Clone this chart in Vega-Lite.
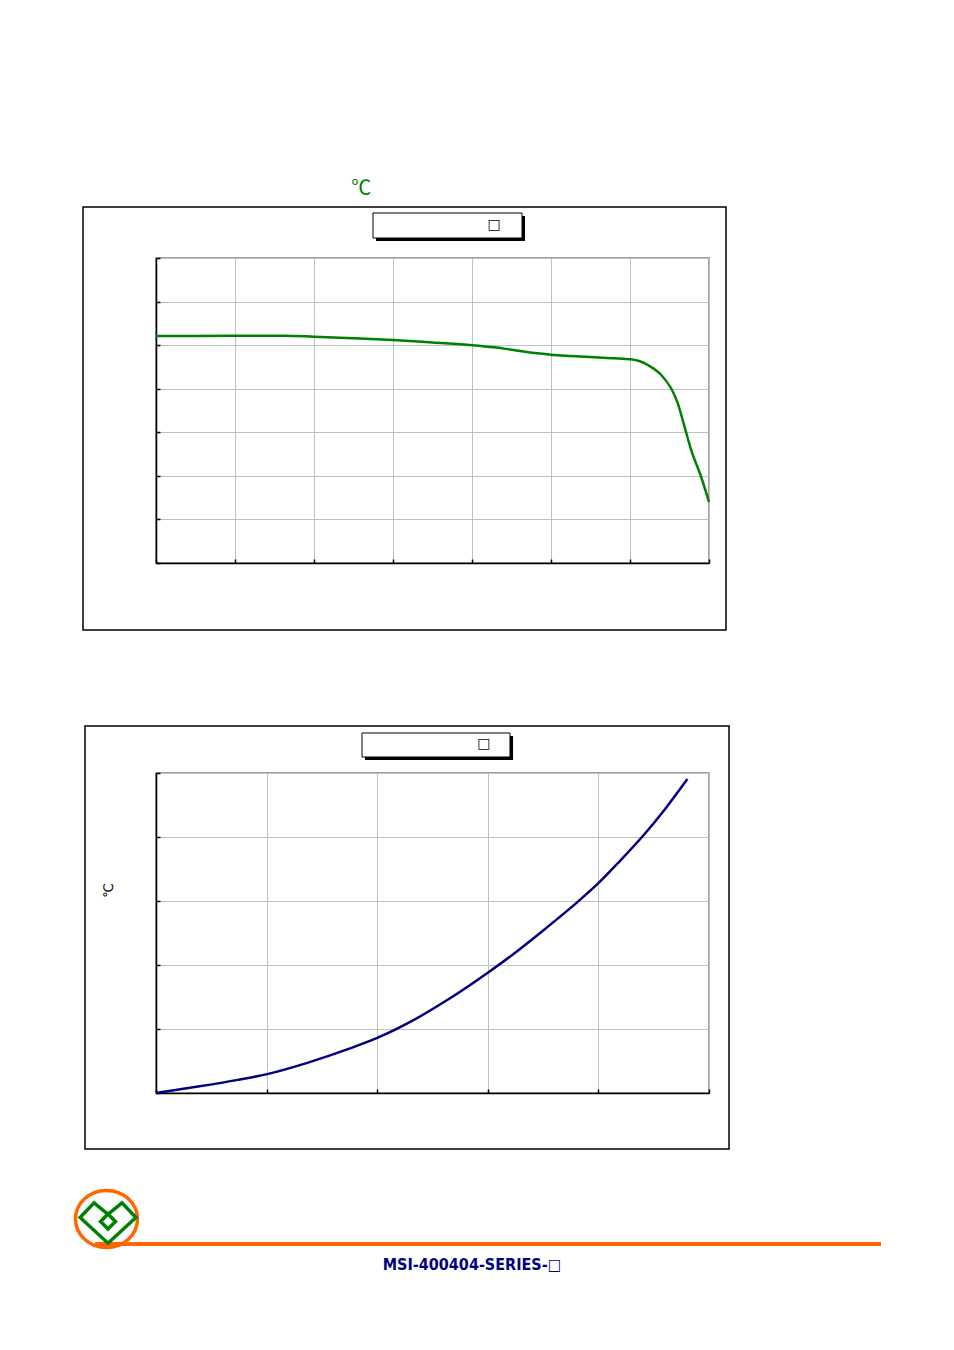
{
  "$schema": "https://vega.github.io/schema/vega-lite/v6.json",
  "background": "white",
  "padding": {"left": 68, "top": 178, "right": 5, "bottom": 5},
  "config": {
    "font": "Liberation Sans",
    "axis": {"labels": false, "grid": true, "gridColor": "#c0c0c0", "gridWidth": 1, "domainColor": "black", "domainWidth": 1.5, "tickColor": "black", "tickWidth": 1.5, "tickSize": -4},
    "view": {"stroke": "#808080", "strokeWidth": 1.5}
  },
  "spacing": 32,
  "vconcat": [
    {
      "spacing": 92,
      "vconcat": [
        {
          "width": 553,
          "height": 305,
          "title": {"text": "℃", "color": "#008000", "font": "Noto Sans CJK SC", "fontSize": 20, "fontWeight": "normal", "anchor": "start", "dx": 269, "offset": -13, "baseline": "bottom"},
          "layer": [
            {
              "data": {"values": [
                {"x": 0, "y": 52.1}, {"x": 20, "y": 52.15}, {"x": 32.5, "y": 52.17}, {"x": 40, "y": 51.95},
                {"x": 50, "y": 51.6}, {"x": 60, "y": 51.18}, {"x": 70, "y": 50.6}, {"x": 80, "y": 50.0},
                {"x": 85.6, "y": 49.5}, {"x": 90, "y": 48.95}, {"x": 96.6, "y": 48.13}, {"x": 100, "y": 47.8},
                {"x": 105, "y": 47.5}, {"x": 111, "y": 47.2}, {"x": 116, "y": 47.0}, {"x": 120.2, "y": 46.75},
                {"x": 122.5, "y": 46.3}, {"x": 124.5, "y": 45.44}, {"x": 127.9, "y": 43.15}, {"x": 130.4, "y": 40.1},
                {"x": 132.1, "y": 36.65}, {"x": 133.8, "y": 31.3}, {"x": 135.5, "y": 25.9}, {"x": 138, "y": 19.8},
                {"x": 140, "y": 14.0}
              ]},
              "mark": {"type": "line", "color": "#008000", "strokeWidth": 2.5, "interpolate": "monotone"},
              "encoding": {
                "x": {"field": "x", "type": "quantitative", "title": null, "scale": {"domain": [0, 140], "nice": false, "zero": false}, "axis": {"values": [0, 20, 40, 60, 80, 100, 120, 140]}},
                "y": {"field": "y", "type": "quantitative", "title": null, "scale": {"domain": [0, 70], "nice": false, "zero": false}, "axis": {"values": [0, 10, 20, 30, 40, 50, 60, 70]}}
              }
            },
            {
              "data": {"values": [{}]},
              "mark": {"type": "rect", "fill": "transparent", "stroke": "black", "strokeWidth": 1.5},
              "encoding": {
                "x": {"datum": -18.48, "type": "quantitative", "title": null, "scale": {"domain": [0, 140], "nice": false, "zero": false}, "axis": {"values": [0, 20, 40, 60, 80, 100, 120, 140]}},
                "x2": {"datum": 144.3},
                "y": {"datum": 81.71, "type": "quantitative", "title": null, "scale": {"domain": [0, 70], "nice": false, "zero": false}, "axis": {"values": [0, 10, 20, 30, 40, 50, 60, 70]}},
                "y2": {"datum": -15.38}
              }
            },
            {
              "data": {"values": [{}]},
              "mark": {"type": "rect", "fill": "black"},
              "encoding": {
                "x": {"datum": 55.7, "type": "quantitative", "title": null, "scale": {"domain": [0, 140], "nice": false, "zero": false}, "axis": {"values": [0, 20, 40, 60, 80, 100, 120, 140]}},
                "x2": {"datum": 93.42},
                "y": {"datum": 79.64, "type": "quantitative", "title": null, "scale": {"domain": [0, 70], "nice": false, "zero": false}, "axis": {"values": [0, 10, 20, 30, 40, 50, 60, 70]}},
                "y2": {"datum": 73.9}
              }
            },
            {
              "data": {"values": [{}]},
              "mark": {"type": "rect", "fill": "white", "stroke": "black", "strokeWidth": 1},
              "encoding": {
                "x": {"datum": 54.94, "type": "quantitative", "title": null, "scale": {"domain": [0, 140], "nice": false, "zero": false}, "axis": {"values": [0, 20, 40, 60, 80, 100, 120, 140]}},
                "x2": {"datum": 92.66},
                "y": {"datum": 80.33, "type": "quantitative", "title": null, "scale": {"domain": [0, 70], "nice": false, "zero": false}, "axis": {"values": [0, 10, 20, 30, 40, 50, 60, 70]}},
                "y2": {"datum": 74.59}
              }
            },
            {
              "data": {"values": [{"label": "□"}]},
              "mark": {"type": "text", "font": "DejaVu Sans", "fontSize": 14, "fill": "black", "align": "center", "baseline": "middle"},
              "encoding": {
                "x": {"datum": 85.57, "type": "quantitative", "title": null, "scale": {"domain": [0, 140], "nice": false, "zero": false}, "axis": {"values": [0, 20, 40, 60, 80, 100, 120, 140]}},
                "y": {"datum": 77.57, "type": "quantitative", "title": null, "scale": {"domain": [0, 70], "nice": false, "zero": false}, "axis": {"values": [0, 10, 20, 30, 40, 50, 60, 70]}},
                "text": {"field": "label"}
              }
            }
          ]
        },
        {
          "width": 553,
          "height": 320,
          "layer": [
            {
              "data": {"values": [
                {"x": 0, "y": 0}, {"x": 0.76, "y": 1.0}, {"x": 1.48, "y": 2.05}, {"x": 2.01, "y": 2.95},
                {"x": 2.75, "y": 4.75}, {"x": 3.47, "y": 6.85}, {"x": 4.0, "y": 8.6}, {"x": 4.68, "y": 11.5},
                {"x": 5.28, "y": 14.6}, {"x": 6.0, "y": 18.8}, {"x": 6.43, "y": 21.5}, {"x": 7.03, "y": 25.6},
                {"x": 7.63, "y": 29.9}, {"x": 7.99, "y": 32.7}, {"x": 8.35, "y": 35.9}, {"x": 8.84, "y": 40.5},
                {"x": 9.2, "y": 44.3}, {"x": 9.61, "y": 49.06}
              ]},
              "mark": {"type": "line", "color": "#000080", "strokeWidth": 2.5, "interpolate": "monotone"},
              "encoding": {
                "x": {"field": "x", "type": "quantitative", "title": null, "scale": {"domain": [0, 10], "nice": false, "zero": false}, "axis": {"values": [0, 2, 4, 6, 8, 10]}},
                "y": {"field": "y", "type": "quantitative", "title": "℃", "scale": {"domain": [0, 50], "nice": false, "zero": false}, "axis": {"values": [0, 10, 20, 30, 40, 50], "titleFont": "DejaVu Sans", "titleFontSize": 13, "titleFontWeight": "normal", "titleColor": "black", "titleX": -41, "titleY": 117}}
              }
            },
            {
              "data": {"values": [{}]},
              "mark": {"type": "rect", "fill": "transparent", "stroke": "black", "strokeWidth": 1.5},
              "encoding": {
                "x": {"datum": -1.284, "type": "quantitative", "title": null, "scale": {"domain": [0, 10], "nice": false, "zero": false}, "axis": {"values": [0, 2, 4, 6, 8, 10]}},
                "x2": {"datum": 10.362},
                "y": {"datum": 57.34, "type": "quantitative", "title": "℃", "scale": {"domain": [0, 50], "nice": false, "zero": false}, "axis": {"values": [0, 10, 20, 30, 40, 50], "titleFont": "DejaVu Sans", "titleFontSize": 13, "titleFontWeight": "normal", "titleColor": "black", "titleX": -41, "titleY": 117}},
                "y2": {"datum": -8.75}
              }
            },
            {
              "data": {"values": [{}]},
              "mark": {"type": "rect", "fill": "black"},
              "encoding": {
                "x": {"datum": 3.779, "type": "quantitative", "title": null, "scale": {"domain": [0, 10], "nice": false, "zero": false}, "axis": {"values": [0, 2, 4, 6, 8, 10]}},
                "x2": {"datum": 6.456},
                "y": {"datum": 55.78, "type": "quantitative", "title": "℃", "scale": {"domain": [0, 50], "nice": false, "zero": false}, "axis": {"values": [0, 10, 20, 30, 40, 50], "titleFont": "DejaVu Sans", "titleFontSize": 13, "titleFontWeight": "normal", "titleColor": "black", "titleX": -41, "titleY": 117}},
                "y2": {"datum": 52.03}
              }
            },
            {
              "data": {"values": [{}]},
              "mark": {"type": "rect", "fill": "white", "stroke": "black", "strokeWidth": 1},
              "encoding": {
                "x": {"datum": 3.725, "type": "quantitative", "title": null, "scale": {"domain": [0, 10], "nice": false, "zero": false}, "axis": {"values": [0, 2, 4, 6, 8, 10]}},
                "x2": {"datum": 6.401},
                "y": {"datum": 56.25, "type": "quantitative", "title": "℃", "scale": {"domain": [0, 50], "nice": false, "zero": false}, "axis": {"values": [0, 10, 20, 30, 40, 50], "titleFont": "DejaVu Sans", "titleFontSize": 13, "titleFontWeight": "normal", "titleColor": "black", "titleX": -41, "titleY": 117}},
                "y2": {"datum": 52.5}
              }
            },
            {
              "data": {"values": [{"label": "□"}]},
              "mark": {"type": "text", "font": "DejaVu Sans", "fontSize": 14, "fill": "black", "align": "center", "baseline": "middle"},
              "encoding": {
                "x": {"datum": 5.931, "type": "quantitative", "title": null, "scale": {"domain": [0, 10], "nice": false, "zero": false}, "axis": {"values": [0, 2, 4, 6, 8, 10]}},
                "y": {"datum": 54.53, "type": "quantitative", "title": "℃", "scale": {"domain": [0, 50], "nice": false, "zero": false}, "axis": {"values": [0, 10, 20, 30, 40, 50], "titleFont": "DejaVu Sans", "titleFontSize": 13, "titleFontWeight": "normal", "titleColor": "black", "titleX": -41, "titleY": 117}},
                "text": {"field": "label"}
              }
            }
          ]
        }
      ]
    },
    {
      "width": 726,
      "height": 80,
      "view": {"stroke": null},
      "layer": [
        {
          "data": {"values": [{}]},
          "mark": {"type": "rule", "color": "#ff6600", "strokeWidth": 4},
          "encoding": {
            "x": {"datum": -0.084, "type": "quantitative", "scale": {"domain": [0, 1], "nice": false, "zero": false}, "axis": null},
            "x2": {"datum": 0.9986},
            "y": {"datum": 0.35, "type": "quantitative", "scale": {"domain": [0, 1], "nice": false, "zero": false}, "axis": null}
          }
        },
        {
          "data": {"values": [{}]},
          "mark": {"type": "point", "filled": false, "stroke": "#ff6600", "strokeWidth": 3.5, "size": 3844, "shape": "M -1 0 A 1 0.92 0 1 0 1 0 A 1 0.92 0 1 0 -1 0 Z", "opacity": 1},
          "encoding": {
            "x": {"datum": -0.0682, "type": "quantitative", "scale": {"domain": [0, 1], "nice": false, "zero": false}, "axis": null},
            "y": {"datum": 0.6625, "type": "quantitative", "scale": {"domain": [0, 1], "nice": false, "zero": false}, "axis": null}
          }
        },
        {
          "data": {"values": [{}]},
          "mark": {"type": "point", "filled": false, "stroke": "#008000", "strokeWidth": 3.5, "size": 3844, "shape": "M -0.9 -0.05 L -0.45 -0.52 L 0 -0.15 L 0.45 -0.52 L 0.9 -0.05 L 0 0.78 Z M 0 -0.16 L 0.24 0.08 L 0 0.32 L -0.24 0.08 Z", "opacity": 1},
          "encoding": {
            "x": {"datum": -0.0661, "type": "quantitative", "scale": {"domain": [0, 1], "nice": false, "zero": false}, "axis": null},
            "y": {"datum": 0.6625, "type": "quantitative", "scale": {"domain": [0, 1], "nice": false, "zero": false}, "axis": null}
          }
        },
        {
          "data": {"values": [{"label": "MSI-400404-SERIES-□"}]},
          "mark": {"type": "text", "font": "DejaVu Sans Condensed, Liberation Sans", "fontWeight": "bold", "fontSize": 16, "fill": "#000080", "align": "center", "baseline": "middle"},
          "encoding": {
            "x": {"datum": 0.4353, "type": "quantitative", "scale": {"domain": [0, 1], "nice": false, "zero": false}, "axis": null},
            "y": {"datum": 0.0875, "type": "quantitative", "scale": {"domain": [0, 1], "nice": false, "zero": false}, "axis": null},
            "text": {"field": "label"}
          }
        }
      ]
    }
  ]
}
